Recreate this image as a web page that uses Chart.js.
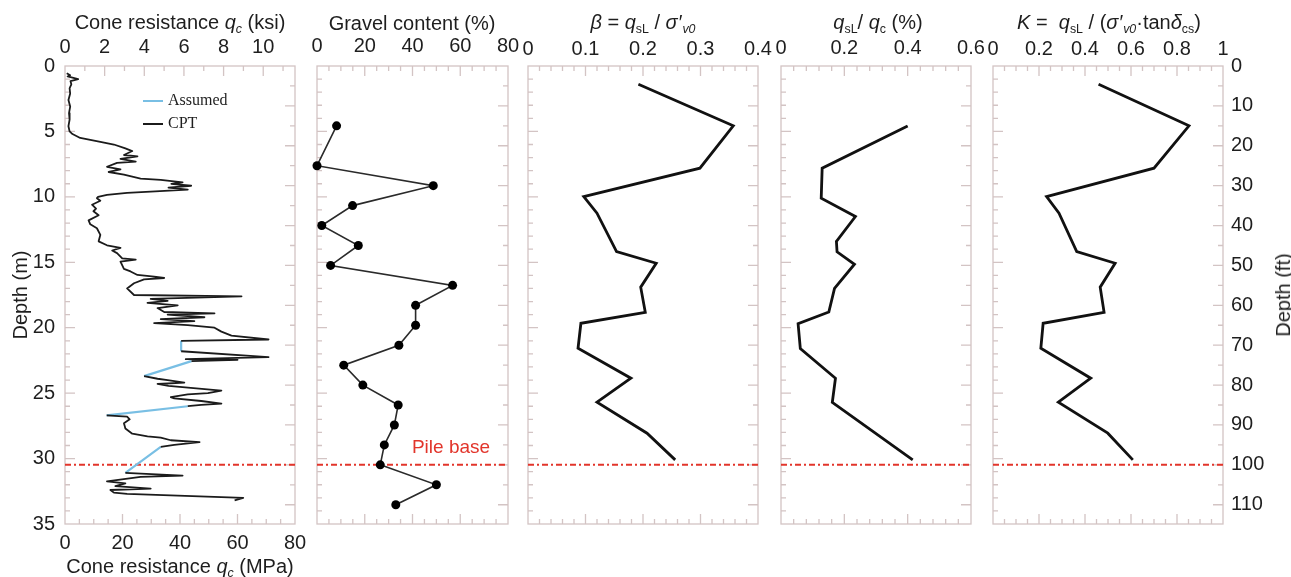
<!DOCTYPE html>
<html>
<head>
<meta charset="utf-8">
<script src="https://cdn.jsdelivr.net/npm/chart.js@4.4.1/dist/chart.umd.min.js"></script>
<style>
  html, body { margin: 0; padding: 0; background: #fff; }
  #wrap { position: relative; width: 1291px; height: 577px; overflow: hidden;
          font-family: 'Liberation Sans', Arial, Helvetica, sans-serif; color: #1e1e1e; }
  #wrap canvas { position: absolute; left: 0; top: 0; }
  .t { position: absolute; white-space: nowrap; transform: translate(-50%, -50%);
       font-size: 20px; line-height: 1; }
  .t sub { font-size: 0.62em; vertical-align: -0.32em; line-height: 0; }
  .t .pr { margin-left: 1px; }
  .rot { transform: translate(-50%, -50%) rotate(-90deg); }
  .lg { position: absolute; font-family: 'Liberation Serif', 'Times New Roman', serif;
        font-size: 16px; line-height: 1; transform: translateY(-50%); white-space: nowrap; }
  .lg .sw { display: inline-block; width: 20px; height: 2px; vertical-align: middle; margin-right: 5px; }
  .pile { position: absolute; color: #e2352b; font-size: 19px; transform: translate(-50%, -50%); white-space: nowrap; }
</style>
</head>
<body>
<div id="wrap">
  <canvas id="c1" width="1291" height="577"></canvas>
  <canvas id="c2" width="1291" height="577"></canvas>
  <canvas id="c3" width="1291" height="577"></canvas>
  <canvas id="c4" width="1291" height="577"></canvas>
  <canvas id="c5" width="1291" height="577"></canvas>

  <div class="t" style="left:180px;top:22px">Cone resistance <i>q</i><sub><i>c</i></sub> (ksi)</div>
  <div class="t" style="left:180px;top:566px">Cone resistance <i>q</i><sub><i>c</i></sub> (MPa)</div>
  <div class="t" style="left:412px;top:23px">Gravel content (%)</div>
  <div class="t" style="left:643px;top:22px"><i>β</i> = <i>q</i><sub>sL</sub> / <i>σ</i><span class="pr">′</span><sub><i>v0</i></sub></div>
  <div class="t" style="left:878px;top:22px"><i>q</i><sub>sL</sub>/ <i>q</i><sub>c</sub> (%)</div>
  <div class="t" style="left:1109px;top:22px"><i>K</i> =&nbsp; <i>q</i><sub>sL</sub> / (<i>σ</i><span class="pr">′</span><sub><i>v0</i></sub>·tan<i>δ</i><sub>cs</sub>)</div>
  <div class="t rot" style="left:1283px;top:295px">Depth (ft)</div>

  <div class="lg" style="left:143px;top:100px"><span class="sw" style="background:#79bfe4"></span>Assumed</div>
  <div class="lg" style="left:143px;top:123px"><span class="sw" style="background:#1b1b1b"></span>CPT</div>
  <div class="pile" style="left:451px;top:447px">Pile base</div>
</div>

<script>
// ---------------- data ----------------
// CPT profile: depth (m) and cone resistance (MPa); null marks a gap in the record
const cptDepth = [
  0.55, 0.7, 0.8, 1.0, 1.15, 1.4, 1.7, 2.1, 2.6, 3.1, 3.6, 4.1, 4.6, 5.0, 5.2, 5.5, 5.8, 6.0, 6.3, 6.5,
  6.8, 6.9, 7.1, 7.3, 7.4, 7.7, 7.9, 8.1, 8.3, 8.6, 8.7, 8.9, 9.0, 9.15, 9.3, 9.45, 9.6, 9.7, 9.85, 10.0,
  10.1, 10.3, 10.6, 10.9, 11.1, 11.4, 11.8, 12.1, 12.4, 12.9, 13.4, 13.7, 13.9, 14.1, 14.3, 14.7, 14.8, 14.95,
  15.5, 15.7, 15.97, 16.1, 16.2, 16.3, 16.6, 17.0, 17.5, 17.6, 17.8, 17.95, 18.1, 18.3, 18.5, 18.8, 18.9,
  19.0, 19.2, 19.35, 19.5, 19.65, 19.8, 19.9, 20.0, 20.3, 20.6, 20.9, 21.0,
  null,
  21.8, 22.25, 22.4, 22.45, 22.55,
  null,
  23.7, 23.9, 24.0, 24.2, 24.3, 24.45, 24.8, 25.0, 25.1, 25.3, 25.4, 25.6, 25.8, 25.9, 26.0,
  null,
  26.7, 26.8, 27.0, 27.3, 27.7, 28.1, 28.3, 28.4, 28.6, 28.75, 28.95, 29.1,
  null,
  31.1, 31.3, 31.4, 31.75, 31.9, 32.1, 32.3, 32.4, 32.6, 32.7, 33.0, 33.2
];
const cptQc = [
  0.6, 1.8, 0.9, 4.6, 1.9, 2.2, 1.6, 1.8, 1.2, 1.8, 1.4, 1.6, 1.2, 1.6, 2.6, 5.3, 12.3, 17, 21, 23.4,
  20.5, 25.2, 19.3, 24.6, 18.1, 14.6, 19.3, 15.2, 20.5, 26.3, 33.3, 40.9, 37, 43.9, 36, 42.7, 29.8, 21.6, 14.6, 11.5,
  11.1, 12.3, 9.4, 10.8, 9.9, 11.7, 8.2, 8.8, 11.1, 12.3, 11.7, 14.6, 19.3, 16.4, 18.1, 19.9, 24.6, 19.3,
  20.5, 22.8, 25.2, 31, 34.5, 27.5, 24, 21.6, 24, 61.4, 29.8, 35.7, 28.7, 39.2, 32.2, 34.5, 52,
  35.7, 48.5, 33.3, 45, 31, 42.7, 47.4, 52, 54.4, 57.9, 70.8, 40.4,
  null,
  40.4, 70.8, 42, 60, 44,
  null,
  27.5, 32.2, 35.7, 41.5, 32.2, 36, 54.4, 49.7, 42.7, 36.8, 38, 47.4, 54.4, 47.4, 42.7,
  null,
  14.5, 21.6, 22.5, 20.5, 21, 23.4, 28.7, 33.3, 36.8, 46.8, 38, 33.3,
  null,
  21, 40.9, 26.3, 14.6, 21, 17.5, 29.8, 15.8, 17, 21.6, 62, 59
];
// assumed resistance across the gaps in the CPT record
const assumedDepth = [21.0, 21.8, null, 22.55, 23.7, null, 26.0, 26.7, null, 29.1, 31.1];
const assumedQc    = [40.4, 40.4, null, 44, 27.5, null, 42.7, 14.5, null, 33.3, 21];

// gravel content of samples, depth in ft
const gravelDepthFt = [15, 25, 30, 35, 40, 45, 50, 55, 60, 65, 70, 75, 80, 85, 90, 95, 100, 105, 110];
const gravelPct     = [8.2, 0, 48.7, 14.9, 2, 17.3, 5.7, 56.8, 41.3, 41.3, 34.3, 11.2, 19.2, 34, 32.4, 28.2, 26.5, 50, 33];

// shaft resistance ratios, depth in m
const ratioDepth = [1.40, 4.57, 7.81, 9.98, 11.25, 14.18, 15.07, 16.9, 18.82, 19.66, 21.57, 23.86, 25.69, 28.06, 30.1];
const betaValues = [0.192, 0.357, 0.299, 0.097, 0.12, 0.154, 0.223, 0.196, 0.204, 0.092, 0.087, 0.179, 0.12, 0.207, 0.256];
const kValues    = [0.459, 0.852, 0.70, 0.233, 0.287, 0.364, 0.531, 0.466, 0.483, 0.218, 0.208, 0.425, 0.284, 0.499, 0.608];

const qsRatioDepth  = [4.58, 7.81, 10.1, 11.5, 13.4, 14.2, 15.15, 17.0, 18.8, 19.7, 21.6, 23.86, 25.7, 30.1];
const qsRatioValues = [0.40, 0.13, 0.127, 0.235, 0.175, 0.177, 0.232, 0.169, 0.151, 0.054, 0.061, 0.172, 0.162, 0.416];

const pileBaseFt = 100;

// ---------------- layout ----------------
const W = 1291, H = 577, TOP = 66, BOTTOM = 524, TOP_AXIS_H = 40;
const DEPTH_MAX = 35;
const M_PER_FT = 0.3048;
const MPA_PER_KSI = 6.895;
const PILE_BASE = pileBaseFt * M_PER_FT;
const FONT = "'Liberation Sans', Arial, Helvetica, sans-serif";
const INK = '#1e1e1e';
const FRAME = '#d3c4c4';
const PILE_COLOR = '#e2352b';

Chart.defaults.font.family = FONT;
Chart.defaults.font.size = 20;
Chart.defaults.color = INK;

const pts = (xs, ys) => xs.map((x, i) => ({ x: x, y: ys[i] }));
const tickText = v => String(Number(v.toFixed(3)));

// frame with inward tick marks: metres on the left edge, feet on the right edge
const frameTicks = {
  id: 'frameTicks',
  beforeDatasetsDraw(chart, args, o) {
    const { ctx, chartArea: a } = chart;
    const ys = chart.scales.y;
    ctx.save();
    ctx.strokeStyle = FRAME;
    ctx.lineWidth = 1.3;
    ctx.beginPath();
    const seg = (x1, y1, x2, y2) => { ctx.moveTo(x1, y1); ctx.lineTo(x2, y2); };
    for (let m = 1; m < DEPTH_MAX; m++) {
      const p = ys.getPixelForValue(m);
      seg(a.left, p, a.left + (m % 5 === 0 ? 10 : 5), p);
    }
    for (let f = 5; f * M_PER_FT < DEPTH_MAX; f += 5) {
      const p = ys.getPixelForValue(f * M_PER_FT);
      seg(a.right - (f % 10 === 0 ? 10 : 5), p, a.right, p);
    }
    const edge = (spec, y, dir) => {
      const s = chart.scales[spec.scale];
      const n = Math.floor((s.max - s.min) / spec.minor + 1e-9);
      for (let i = 1; i <= n; i++) {
        const v = s.min + i * spec.minor;
        if (v >= s.max - 1e-9) continue;
        const r = v / spec.major;
        const major = Math.abs(r - Math.round(r)) < 1e-6;
        const p = s.getPixelForValue(v);
        seg(p, y, p, y + dir * (major ? 10 : 5));
      }
    };
    edge(o.top, a.top, 1);
    edge(o.bottom, a.bottom, -1);
    ctx.stroke();
    ctx.strokeRect(a.left, a.top, a.right - a.left, a.bottom - a.top);
    ctx.restore();
  }
};

const noGrid = { display: false, drawTicks: false };
const noBorder = { display: false };

function xAxis(position, min, max, step, pad, size) {
  return {
    type: 'linear', position: position, min: min, max: max,
    grid: noGrid, border: noBorder,
    ticks: { stepSize: step, padding: pad, includeBounds: false, autoSkip: false, maxRotation: 0,
             color: INK, font: { size: 20 }, callback: tickText },
    afterFit: s => { s.height = size; }
  };
}
const hiddenDepth = { type: 'linear', display: false, reverse: true, min: 0, max: DEPTH_MAX };

function pileLine(xmin, xmax) {
  return {
    label: 'Pile base', data: [{ x: xmin, y: PILE_BASE }, { x: xmax, y: PILE_BASE }],
    showLine: true, borderColor: PILE_COLOR, borderWidth: 2, borderDash: [6, 3, 2, 3], pointRadius: 0
  };
}
function profile(label, xs, ys, width) {
  return {
    label: label, data: pts(xs, ys), showLine: true, borderColor: '#111', borderWidth: width,
    pointRadius: 0, borderJoinStyle: 'miter', borderCapStyle: 'butt'
  };
}

function panel(id, L, R, opt) {
  const leftW = opt.leftW || 0, rightW = opt.rightW || 0, botH = opt.botH || 0;
  return new Chart(document.getElementById(id), {
    type: 'scatter',
    data: { datasets: opt.datasets },
    options: {
      responsive: false, animation: false, events: [],
      layout: { autoPadding: false,
        padding: { left: L - leftW, right: W - R - rightW, top: TOP - TOP_AXIS_H, bottom: H - BOTTOM - botH } },
      scales: opt.scales,
      plugins: { legend: { display: false }, tooltip: { enabled: false }, frameTicks: opt.ticks }
    },
    plugins: [frameTicks]
  });
}

// ---- 1: cone resistance ----
panel('c1', 65, 295, {
  leftW: 60, botH: 53,
  scales: {
    x: xAxis('bottom', 0, 80, 20, 7, 53),
    xk: Object.assign(xAxis('top', 0, 80 / MPA_PER_KSI, 2, 7, TOP_AXIS_H), { axis: 'x' }),
    y: {
      type: 'linear', position: 'left', reverse: true, min: 0, max: DEPTH_MAX,
      grid: noGrid, border: noBorder,
      ticks: { stepSize: 5, padding: 10, color: INK, font: { size: 20 } },
      title: { display: true, text: 'Depth (m)', color: INK, font: { size: 20 }, padding: { top: 4, bottom: 0 } },
      afterFit: s => { s.width = 60; }
    }
  },
  datasets: [
    Object.assign(profile('CPT', cptQc, cptDepth, 1.8), { borderColor: '#1b1b1b', borderJoinStyle: 'round' }),
    Object.assign(profile('Assumed', assumedQc, assumedDepth, 2.2), { borderColor: '#79bfe4' }),
    pileLine(0, 80)
  ],
  ticks: { top: { scale: 'xk', minor: 1, major: 2 }, bottom: { scale: 'x', minor: 5, major: 20 } }
});

// ---- 2: gravel content ----
panel('c2', 317, 508, {
  scales: { x: xAxis('top', 0, 80, 20, 8, TOP_AXIS_H), y: hiddenDepth },
  datasets: [
    {
      label: 'Gravel content', data: pts(gravelPct, gravelDepthFt.map(f => f * M_PER_FT)),
      showLine: true, borderColor: '#2a2a2a', borderWidth: 1.6, clip: 8,
      pointRadius: 4.5, pointBackgroundColor: '#000', pointBorderWidth: 0
    },
    pileLine(0, 80)
  ],
  ticks: { top: { scale: 'x', minor: 5, major: 20 }, bottom: { scale: 'x', minor: 5, major: 20 } }
});

// ---- 3: beta ----
panel('c3', 528, 758, {
  scales: { x: xAxis('top', 0, 0.4, 0.1, 5, TOP_AXIS_H), y: hiddenDepth },
  datasets: [profile('beta', betaValues, ratioDepth, 2.8), pileLine(0, 0.4)],
  ticks: { top: { scale: 'x', minor: 0.02, major: 0.1 }, bottom: { scale: 'x', minor: 0.02, major: 0.1 } }
});

// ---- 4: qsL / qc ----
panel('c4', 781, 971, {
  scales: { x: xAxis('top', 0, 0.6, 0.2, 6, TOP_AXIS_H), y: hiddenDepth },
  datasets: [profile('qsL/qc', qsRatioValues, qsRatioDepth, 2.8), pileLine(0, 0.6)],
  ticks: { top: { scale: 'x', minor: 0.04, major: 0.2 }, bottom: { scale: 'x', minor: 0.04, major: 0.2 } }
});

// ---- 5: K ----
panel('c5', 993, 1223, {
  rightW: 45,
  scales: {
    x: xAxis('top', 0, 1, 0.2, 5, TOP_AXIS_H),
    y: hiddenDepth,
    yft: {
      type: 'linear', position: 'right', axis: 'y', reverse: true, min: 0, max: DEPTH_MAX / M_PER_FT,
      grid: noGrid, border: noBorder,
      ticks: { stepSize: 10, padding: 8, includeBounds: false, color: INK, font: { size: 20 } },
      afterFit: s => { s.width = 45; }
    }
  },
  datasets: [profile('K', kValues, ratioDepth, 2.8), pileLine(0, 1)],
  ticks: { top: { scale: 'x', minor: 0.05, major: 0.2 }, bottom: { scale: 'x', minor: 0.05, major: 0.2 } }
});
</script>
</body>
</html>
